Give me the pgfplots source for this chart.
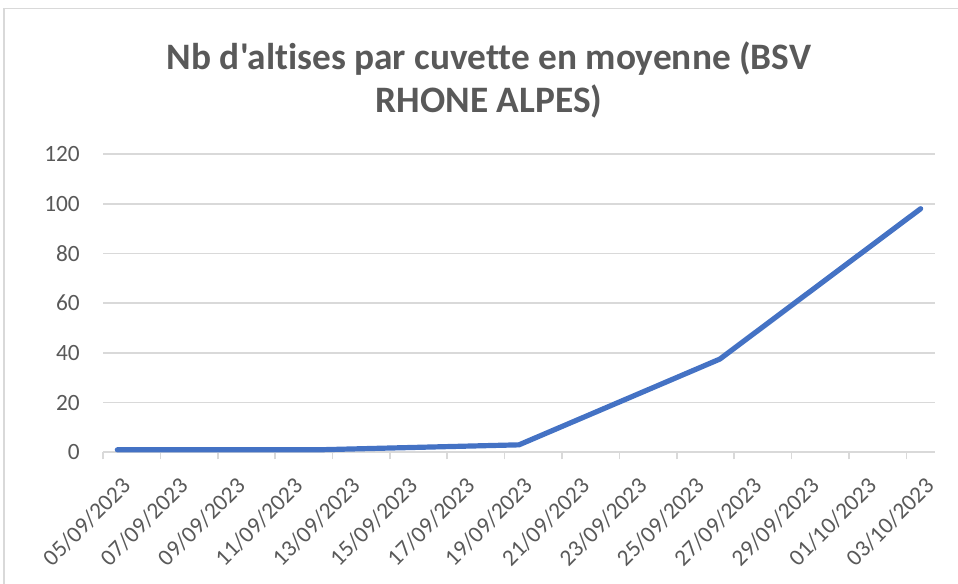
\documentclass[border=0pt]{standalone}
\usepackage{pgfplots}
\pgfplotsset{compat=1.18}
\usepackage{fontspec}
\setmainfont{Carlito}[Ligatures={NoCommon}]
\newfontfamily\calfont{Carlito}[Ligatures={NoCommon}]
\definecolor{cLine}{HTML}{4472C4}
\definecolor{cGrid}{HTML}{D9D9D9}
\definecolor{cText}{HTML}{595959}
\definecolor{cFrame}{HTML}{D9D9D9}
\begin{document}
\begin{tikzpicture}
\begin{scope}[x=0.75pt,y=0.75pt]
\path[use as bounding box] (0,0) rectangle (958,584);
\draw[cFrame, line width=1.2pt] (4,0) -- (4,575.5) -- (958,575.5);
\node[font=\calfont\fontsize{28}{32}\selectfont\bfseries, text=cText, anchor=base] at (489,514) {Nb d'altises par cuvette en moyenne (BSV};
\node[font=\calfont\fontsize{28}{32}\selectfont\bfseries, text=cText, anchor=base] at (489,471) {RHONE ALPES)};
\end{scope}
\begin{axis}[
  at={(77.25pt,98.775pt)}, anchor=south west,
  scale only axis, width=624pt, height=223.7pt,
  xmin=-0.5, xmax=28.5, ymin=0, ymax=120,
  axis line style={draw=none},
  ymajorgrids, grid style={cGrid, line width=1.2pt},
  xtick={0,2,...,28},
  xticklabels={05/09/2023,07/09/2023,09/09/2023,11/09/2023,13/09/2023,15/09/2023,17/09/2023,19/09/2023,21/09/2023,23/09/2023,25/09/2023,27/09/2023,29/09/2023,01/10/2023,03/10/2023},
  minor xtick={-0.5,1.5,...,27.5},
  ytick={0,20,...,120},
  tick pos=left,
  major tick length=0pt, minor tick length=5.25pt, tick align=outside,
  minor x tick style={draw=cGrid, line width=1.2pt},
  major tick style={draw=none},
  ticklabel style={font=\calfont\fontsize{17.5}{21}\selectfont, text=cText},
  /pgf/number format/assume math mode=true,
  xticklabel style={xshift=2.25pt, yshift=-17.5pt, rotate=45, anchor=north east, inner sep=0pt},
  yticklabel style={anchor=east, inner sep=0pt, xshift=-17.25pt},
  clip=false,
]
\addplot[color=cLine, line width=3.9pt, line cap=round, line join=round] coordinates {(0,1) (7,1) (14,3) (21,37.5) (28,98)};
\end{axis}
\end{tikzpicture}
\end{document}
